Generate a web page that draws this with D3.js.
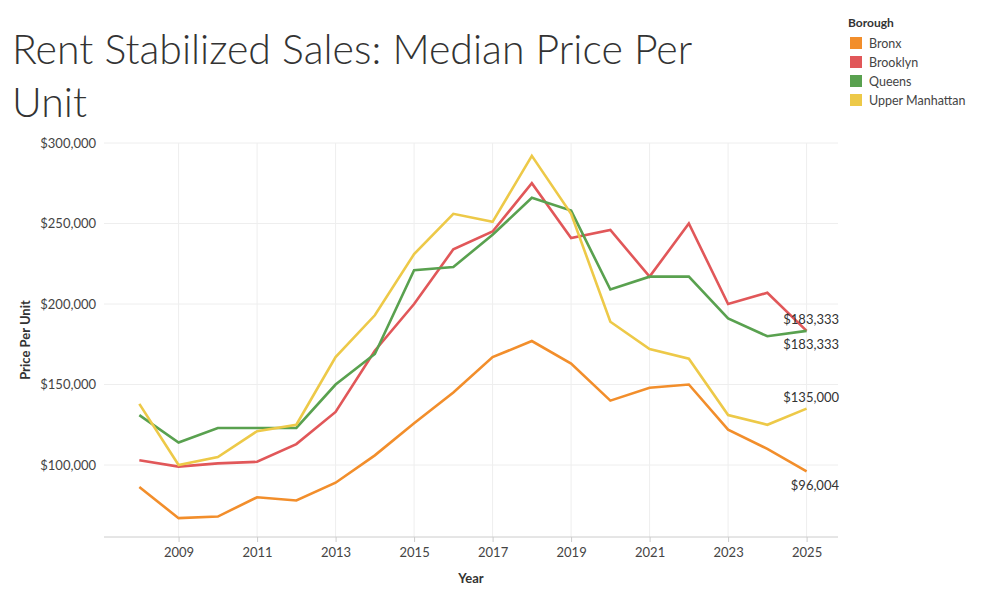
<!DOCTYPE html>
<html><head><meta charset="utf-8">
<script src="https://cdn.jsdelivr.net/npm/d3@7"></script>
<style>body{margin:0;background:#fff;font-family:Lato,"Open Sans",sans-serif}</style>
</head><body>
<svg id="chart" width="981" height="596"></svg>
<script>
// data
const years = d3.range(2008, 2026)
const bronx = [86300,67000,68000,80000,78000,89000,106000,126000,145000,167000,177000,163000,140000,148000,150000,122000,110000,96004]
const brooklyn = [103000,99000,101000,102000,113000,133000,171000,200000,234000,245000,275000,241000,246000,217000,250000,200000,207000,183333]
const queens = [131000,114000,123000,123000,123000,150000,169000,221000,223000,243000,266000,258000,209000,217000,217000,191000,180000,183333]
const upperManhattan = [138000,100000,105000,121000,125000,167000,193000,231000,256000,251000,292000,256000,189000,172000,166000,131000,125000,135000]
const boroughs = ['Bronx', 'Brooklyn', 'Queens', 'Upper Manhattan']
const colors = ['#f28e2b', '#e15759', '#59a14f', '#edc948']
const yTicks = [100000, 150000, 200000, 250000, 300000]
const xTicks = [2009, 2011, 2013, 2015, 2017, 2019, 2021, 2023, 2025]

const series = [bronx, brooklyn, queens, upperManhattan]
const svg = d3.select('#chart')

let x = d3.scaleLinear().domain([2007.1, 2025.8]).range([104, 838])
let y = d3.scaleLinear().domain([55300, 300000]).range([537, 143])
const fmt = d3.format('$,')

// title
svg.append('text').attr('x', 12).attr('y', 64).text('Rent Stabilized Sales: Median Price Per')
    .attr('font-size', 41).attr('font-weight', 300).attr('fill', '#333')
svg.append('text').attr('x', 12).attr('y', 117).text('Unit')
    .attr('font-size', 41).attr('font-weight', 300).attr('fill', '#333')

// grid
svg.append('g').selectAll('line').data(yTicks).join('line')
    .attr('x1', 104).attr('x2', 838).attr('y1', d => y(d)).attr('y2', d => y(d))
    .attr('stroke', '#eee')
svg.append('g').selectAll('line').data(xTicks).join('line')
    .attr('y1', 143).attr('y2', 537).attr('x1', d => x(d)).attr('x2', d => x(d))
    .attr('stroke', '#eee')
svg.append('line').attr('x1', 104).attr('x2', 838).attr('y1', 537).attr('y2', 537).attr('stroke', '#ccc')

// axes
let yAxis = svg.append('g').attr('transform', 'translate(104,0)')
    .call(d3.axisLeft(y).tickValues(yTicks).tickFormat(fmt).tickSize(0).tickPadding(8))
yAxis.select('.domain').remove()
yAxis.selectAll('text').attr('font-size', 13).attr('fill', '#444').attr('font-family', 'Lato')

let xAxis = svg.append('g').attr('transform', 'translate(0,537)')
    .call(d3.axisBottom(x).tickValues(xTicks).tickFormat(d3.format('d')).tickSize(5).tickPadding(6))
xAxis.select('.domain').remove()
xAxis.selectAll('line').attr('stroke', '#ccc')
xAxis.selectAll('text').attr('font-size', 13).attr('fill', '#444').attr('font-family', 'Lato')

svg.append('text').attr('x', 471).attr('y', 583).attr('text-anchor', 'middle')
    .text('Year').attr('font-size', 13).attr('font-weight', 'bold').attr('fill', '#333')
svg.append('text').attr('transform', 'translate(30,340) rotate(-90)').attr('text-anchor', 'middle')
    .text('Price Per Unit').attr('font-size', 13).attr('font-weight', 'bold').attr('fill', '#333')

// lines
const line = d3.line().x((d, i) => x(years[i])).y(d => y(d))
svg.append('g').selectAll('path').data(series).join('path')
    .attr('d', line).attr('fill', 'none')
    .attr('stroke', (d, i) => colors[i]).attr('stroke-width', 2.6)

// end labels
const endLabels = [[96004, 490], [183333, 324], [183333, 349], [135000, 402]]
svg.append('g').selectAll('text').data(endLabels).join('text')
    .attr('x', 839).attr('y', d => d[1]).attr('text-anchor', 'end')
    .text(d => fmt(d[0])).attr('font-size', 13).attr('fill', '#333')

// legend
svg.append('text').attr('x', 848).attr('y', 27).text('Borough')
    .attr('font-size', 12).attr('font-weight', 'bold').attr('fill', '#333')
let leg = svg.append('g').selectAll('g').data(boroughs).join('g')
    .attr('transform', (d, i) => `translate(850,${37 + i * 19})`)
leg.append('rect').attr('width', 12).attr('height', 12).attr('fill', (d, i) => colors[i])
leg.append('text').attr('x', 19).attr('y', 10.5).text(d => d).attr('font-size', 12.5).attr('fill', '#444')
</script>
</body></html>
